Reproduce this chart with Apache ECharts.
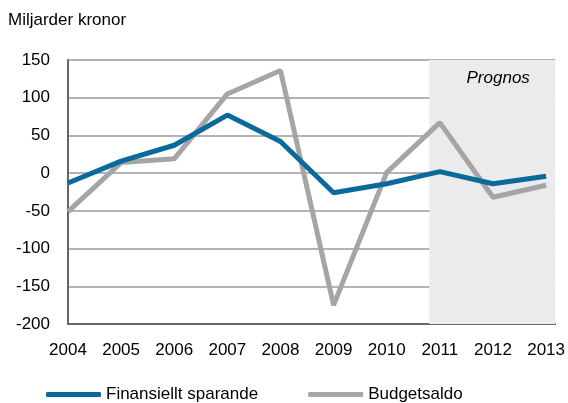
<!DOCTYPE html>
<html>
<head>
<meta charset="utf-8">
<script src="https://cdn.jsdelivr.net/npm/echarts@6/dist/echarts.min.js"></script>
<style>
html, body { margin: 0; padding: 0; background: #fff; }
#chart { width: 568px; height: 403px; }
</style>
</head>
<body>
<div id="chart"></div>
<script>
// år och värden (miljarder kronor)
let years = [2004, 2005, 2006, 2007, 2008, 2009, 2010, 2011, 2012, 2013];
let finansiellt = [-13, 16, 37, 77, 42, -26, -14, 2, -14, -4];
let budget = [-51, 14, 19, 105, 136, -175, 1, 67, -32, -16];
let yTicks = [-200, -150, -100, -50, 0, 50, 100, 150];
let prognosStart = 2010.8;
let xMax = 2013.17;

let pairs = vals => vals.map((v, i) => [years[i], v]);
let font = 'Liberation Sans, Arial, sans-serif';
let fs = 17;

let chart = echarts.init(document.getElementById('chart'));
chart.setOption({
    animation: false,
    textStyle: { fontFamily: font },
    grid: { left: 68, right: 12, top: 60, bottom: 79 },
    graphic: [
        { type: 'text', left: 8, top: 12, style: { text: 'Miljarder kronor', font: fs + 'px ' + font, fill: '#000' } }
    ],
    legend: {
        left: 41, top: 381, itemWidth: 55, itemHeight: 5, itemGap: 50,
        textStyle: { fontSize: fs, color: '#000', fontFamily: font },
        data: [
            { name: 'Finansiellt sparande', icon: 'roundRect' },
            { name: 'Budgetsaldo', icon: 'roundRect' }
        ]
    },
    xAxis: {
        type: 'value', min: years[0], max: xMax, interval: 1,
        axisLine: { show: true, onZero: false, lineStyle: { color: '#666', width: 2 } },
        axisTick: { show: false },
        splitLine: { show: false },
        axisLabel: {
            color: '#000', fontSize: fs, margin: 18,
            formatter: v => Number.isInteger(v) ? String(v) : ''
        }
    },
    yAxis: {
        type: 'value', min: yTicks[0], max: yTicks[yTicks.length - 1], interval: 50,
        axisLine: { show: true, lineStyle: { color: '#666', width: 2 } },
        axisTick: { show: false },
        splitLine: { lineStyle: { color: '#9a9a9a', width: 1.5 } },
        axisLabel: { color: '#000', fontSize: fs, margin: 18 }
    },
    series: [
        {
            // prognosområdet, under stödlinjerna
            type: 'line', data: [], z: -1, silent: true,
            markArea: {
                silent: true,
                itemStyle: { color: '#ebebeb' },
                label: { show: true, position: 'insideTop', distance: 10, offset: [6, 0], fontStyle: 'italic', fontSize: fs, color: '#000', fontFamily: font },
                data: [[{ xAxis: prognosStart, yAxis: 150, name: 'Prognos' }, { xAxis: xMax, yAxis: -200 }]]
            }
        },
        {
            name: 'Finansiellt sparande', type: 'line', data: pairs(finansiellt),
            symbol: 'none', z: 3,
            lineStyle: { color: '#0b6a9c', width: 5 }, itemStyle: { color: '#0b6a9c' }
        },
        {
            name: 'Budgetsaldo', type: 'line', data: pairs(budget),
            symbol: 'none', z: 2,
            lineStyle: { color: '#a5a5a5', width: 5 }, itemStyle: { color: '#a5a5a5' }
        }
    ]
});
</script>
</body>
</html>
